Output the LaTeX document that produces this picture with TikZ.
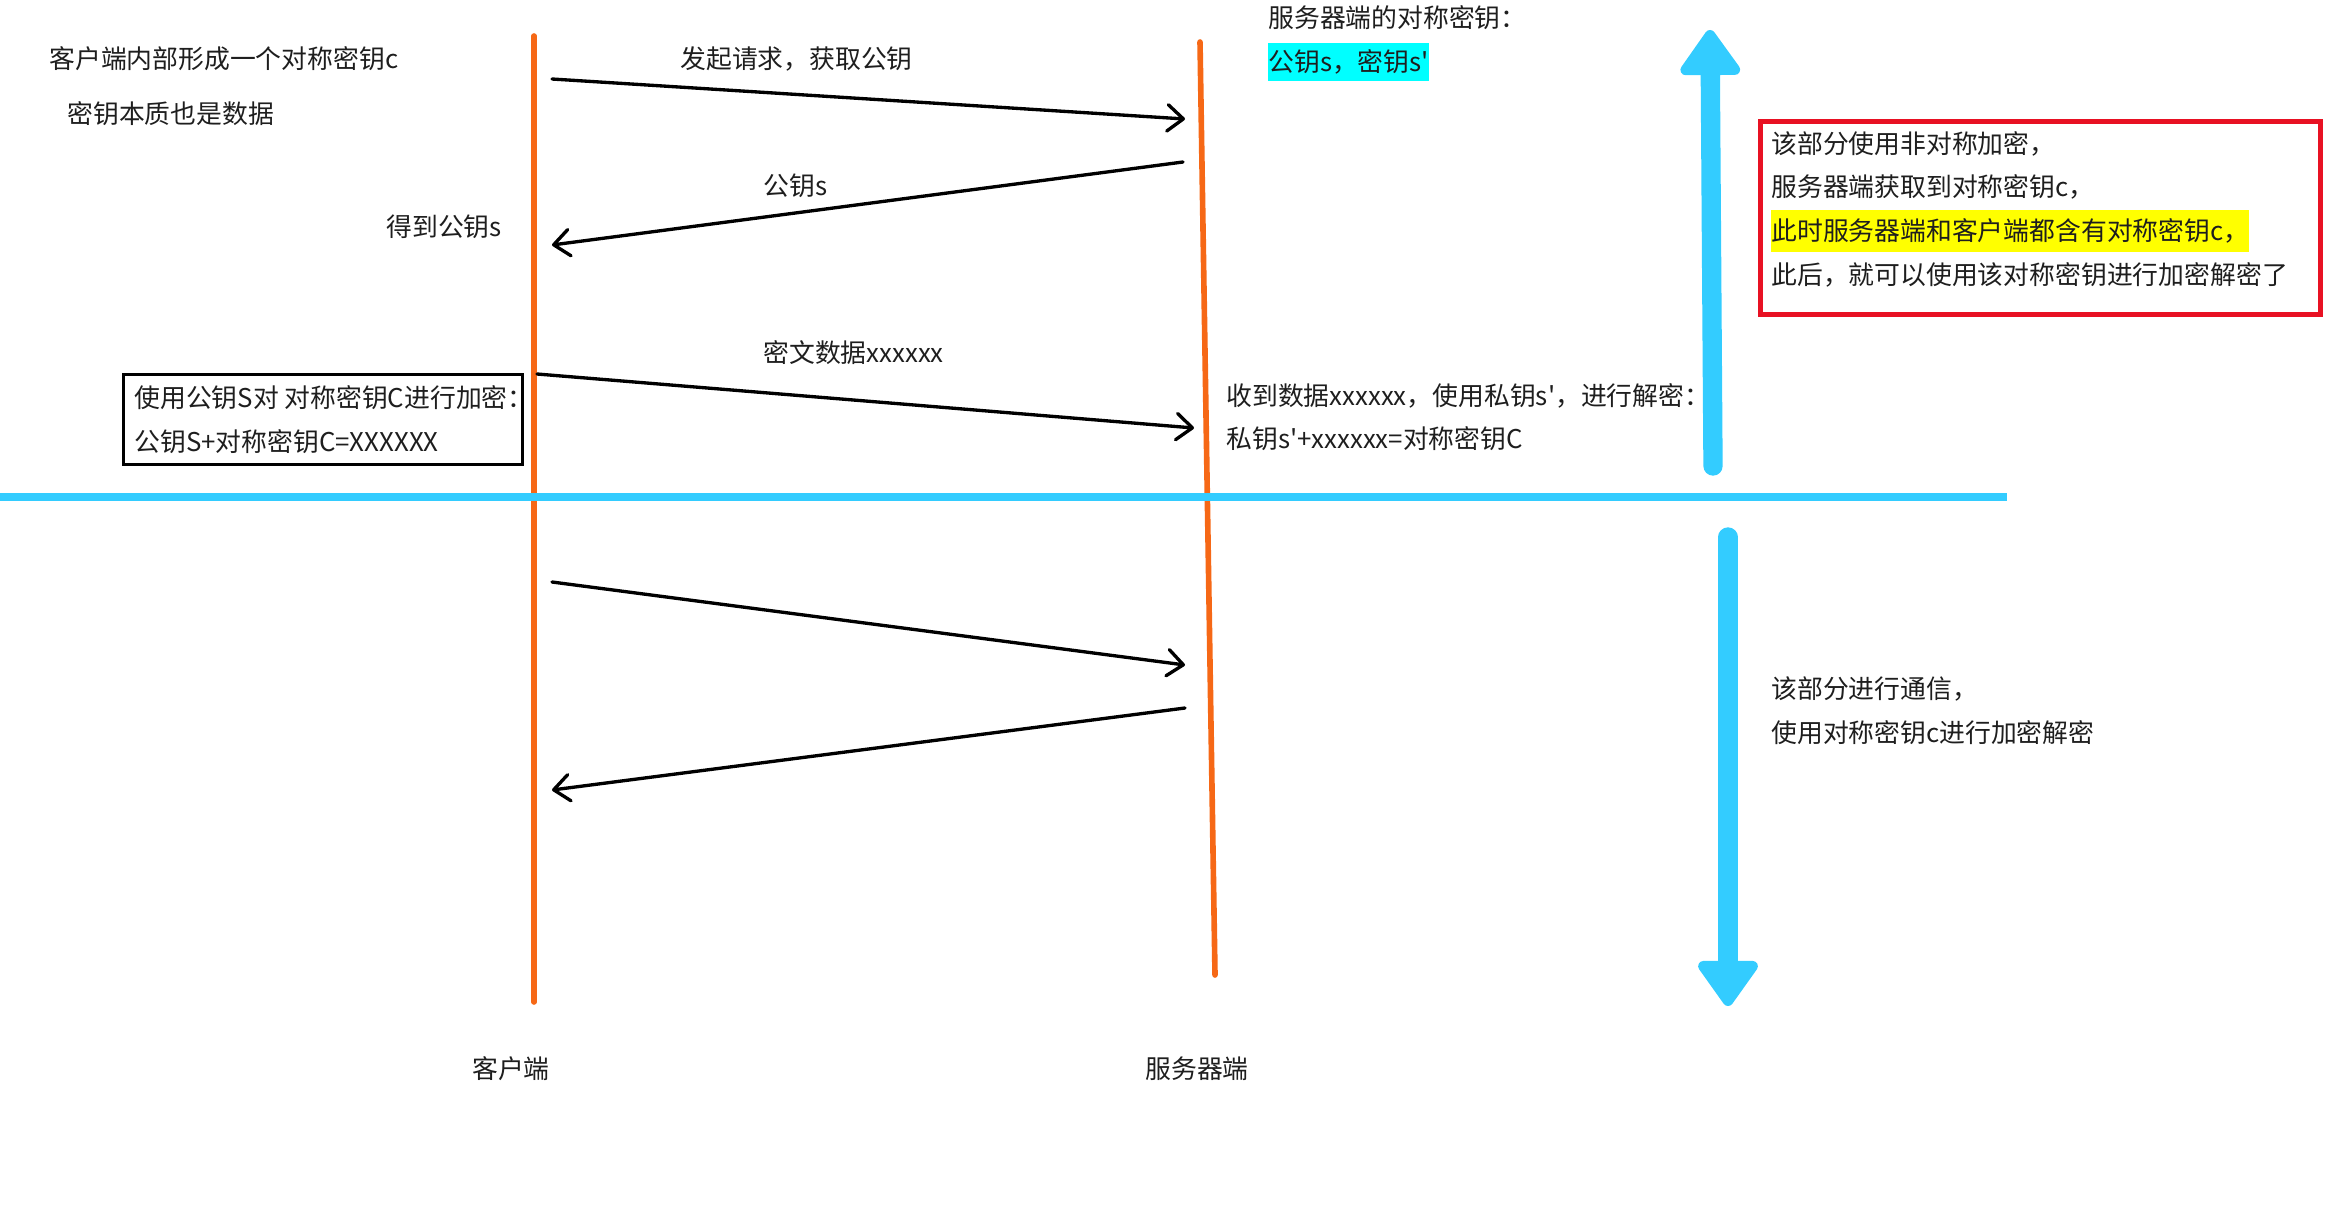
\documentclass[tikz,border=0pt]{standalone}
\usepackage{fontspec}
\newfontfamily\cjk{Noto Sans CJK SC}
\usetikzlibrary{arrows.meta}
\definecolor{lifeorange}{RGB}{246,104,22}
\definecolor{skyblue}{RGB}{51,204,255}
\definecolor{boxred}{RGB}{232,17,35}
\definecolor{txt}{RGB}{30,30,30}
\definecolor{hlcyan}{RGB}{0,255,255}
\definecolor{hlyellow}{RGB}{255,255,0}
\begin{document}
\begin{tikzpicture}[x=0.02cm,y=-0.02cm,
  every node/.style={inner sep=0pt, text=txt, font=\cjk\fontsize{14.7pt}{25pt}\selectfont},
  lbl/.style={anchor=west},
  lifeline/.style={draw=lifeorange, line width=3.2pt, line cap=round},
  msg/.style={draw=black, line width=1.9pt, line cap=round, -{Straight Barb[length=9pt,width=15pt,round]}},
  bigarrow/.style={draw=skyblue, line width=11pt, line cap=round, -{Triangle[length=28pt,width=38pt,line width=6pt,round]}},
  divider/.style={draw=skyblue, line width=4pt},
]
\useasboundingbox (0,0) rectangle (2328,1220);

% left notes
\node[lbl] (t1) at (49,59) {客户端内部形成一个对称密钥c};
\node[lbl] (t2) at (67,114) {密钥本质也是数据};
\node[lbl] (t3) at (386,227) {得到公钥s};

% lifelines
\coordinate (cTop) at (534,36);
\coordinate (cBot) at (534,1002);
\coordinate (sTop) at (1200,42);
\coordinate (sBot) at (1215,975);
\draw[lifeline] (cTop) -- (cBot);
\draw[lifeline] (sTop) -- (sBot);

% messages
\coordinate (m1s) at (552,79);   \coordinate (m1e) at (1185,119);
\coordinate (m2s) at (1183,162); \coordinate (m2e) at (552,245);
\coordinate (m3s) at (537,374);  \coordinate (m3e) at (1194,428);
\coordinate (m4s) at (552,582);  \coordinate (m4e) at (1185,665);
\coordinate (m5s) at (1185,708); \coordinate (m5e) at (552,790);
\draw[msg] (m1s) -- (m1e);
\draw[msg] (m2s) -- (m2e);
\draw[msg] (m3s) -- (m3e);
\draw[msg] (m4s) -- (m4e);
\draw[msg] (m5s) -- (m5e);

\node[lbl] (l1) at (680,59) {发起请求，获取公钥};
\node[lbl] (l2) at (763,186) {公钥s};
\node[lbl] (l3) at (763,353) {密文数据xxxxxx};

% encryption box
\node[draw=black, line width=1.7pt, anchor=north west, minimum width=7.98cm, minimum height=1.8cm] (encbox) at (122,373) {};
\node[lbl, align=left] (enctext) at ([xshift=0.24cm]encbox.west) {使用公钥S对 对称密钥C进行加密：\\公钥S+对称密钥C=XXXXXX};

% server notes
\node[lbl] (srvkey) at (1268,18) {服务器端的对称密钥：};
\node[lbl, fill=hlcyan, minimum height=0.78cm] (srvpair) at (1268,62) {公钥s，密钥s'};
\node[lbl] (srv1) at (1226,396) {收到数据xxxxxx，使用私钥s'，进行解密：};
\node[lbl] (srv2) at (1226,439) {私钥s'+xxxxxx=对称密钥C};

% divider
\coordinate (hL) at (0,497);
\coordinate (hR) at (2007,497);
\draw[divider] (hL) -- (hR);

% big arrows
\coordinate (upS) at (1713,466); \coordinate (upE) at (1710,30);
\coordinate (dnS) at (1728,537); \coordinate (dnE) at (1728,1006);
\draw[bigarrow] (upS) -- (upE);
\draw[bigarrow] (dnS) -- (dnE);

% red box
\node[draw=boxred, line width=2.8pt, anchor=north west, minimum width=11.2cm, minimum height=3.86cm] (redbox) at (1758,119) {};
\node[lbl] (r1) at (1771,144) {该部分使用非对称加密，};
\node[lbl] (r2) at (1771,187) {服务器端获取到对称密钥c，};
\node[lbl, fill=hlyellow, minimum height=0.86cm] (r3) at (1771,231) {此时服务器端和客户端都含有对称密钥c，};
\node[lbl] (r4) at (1771,275) {此后，就可以使用该对称密钥进行加密解密了};

% lower notes
\node[lbl] (b1) at (1771,689) {该部分进行通信，};
\node[lbl] (b2) at (1771,733) {使用对称密钥c进行加密解密};

% bottom labels
\node (client) at (511,1069) {客户端};
\node (server) at (1197,1069) {服务器端};
\end{tikzpicture}
\end{document}
